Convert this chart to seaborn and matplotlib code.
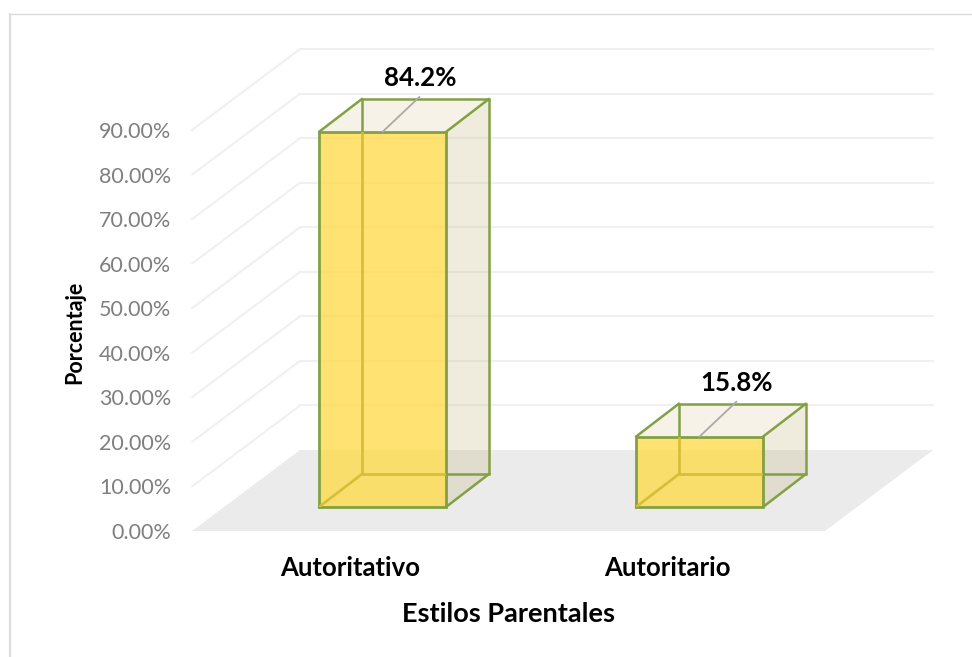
import matplotlib
matplotlib.use("Agg")
import matplotlib.pyplot as plt
from matplotlib.patches import Polygon
from matplotlib.lines import Line2D
from matplotlib.ticker import PercentFormatter
import pandas as pd
import seaborn as sns

categories = ["Autoritativo", "Autoritario"]
values = [84.2, 15.8]
data_labels = ["84.2%", "15.8%"]
tick_values = [0, 10, 20, 30, 40, 50, 60, 70, 80, 90]
x_title = "Estilos Parentales"
y_title = "Porcentaje"

sns.set_theme(style="white")
plt.rcParams["font.family"] = ["Lato", "DejaVu Sans"]

W, H = 972, 657
BASE_PY = 507
AX_BOTTOM_PY = 540
PX_PER_PCT = 4.455
PX_PER_CAT = 317.0
CAT0_PX = 382.5
EDGE = "#83A044"
GRID = "#F0F0F0"


def dx(px):
    return px / PX_PER_CAT


def dy(px):
    return px / PX_PER_PCT


fig = plt.figure(figsize=(W / 100, H / 100), dpi=100, facecolor="white")
ax = fig.add_axes([0, (H - AX_BOTTOM_PY) / H, 1, AX_BOTTOM_PY / H])
ax.patch.set_alpha(0)

df = pd.DataFrame({"estilo": categories, "pct": values})
sns.barplot(data=df, x="estilo", y="pct", width=127 / PX_PER_CAT, color="#FFDB4D",
            saturation=1, edgecolor=EDGE, linewidth=2.0, ax=ax, zorder=6)
ax.set_xlim(-CAT0_PX / PX_PER_CAT, (W - CAT0_PX) / PX_PER_CAT)
ax.set_ylim(-dy(AX_BOTTOM_PY - BASE_PY), dy(BASE_PY))

# Chart geometry, measured in pixel offsets from the bar front plane
wall_left = dx(192 - CAT0_PX)
floor_w = dx(633)
depth_x, depth_y = dx(108), dy(81)
front_to_wall = dy(24)          # 0 % of the wall sits this far below the bar base

# walls
for t in tick_values[1:]:
    y0 = t - front_to_wall
    ax.add_line(Line2D([wall_left, wall_left + depth_x], [y0, y0 + depth_y],
                       color=GRID, lw=1.5, zorder=1))
    ax.add_line(Line2D([wall_left + depth_x, wall_left + depth_x + floor_w],
                       [y0 + depth_y, y0 + depth_y], color=GRID, lw=1.5, zorder=1))

# floor
y0 = -front_to_wall
ax.add_patch(Polygon([(wall_left, y0), (wall_left + floor_w, y0),
                      (wall_left + floor_w + depth_x, y0 + depth_y),
                      (wall_left + depth_x, y0 + depth_y)],
                     closed=True, fc="#EBEBEB", ec="none", zorder=2))

# 3-D box built from each seaborn bar
bx, by = dx(43), dy(33)
for bar, lab in zip(ax.patches[:len(values)], data_labels):
    x0, x1, top = bar.get_x(), bar.get_x() + bar.get_width(), bar.get_height()
    bar.set_facecolor((1.0, 0.859, 0.302, 0.8))
    faces = [
        ([(x1, 0), (x1 + bx, by), (x1 + bx, top + by), (x1, top)], "#C6B886", 0.28),
        ([(x0, top), (x1, top), (x1 + bx, top + by), (x0 + bx, top + by)], "#C6A95B", 0.14),
    ]
    for pts, col, al in faces:
        ax.add_patch(Polygon(pts, closed=True, fc=col, ec="none", alpha=al, zorder=3))
    inner = [
        ([x0 + bx, x0 + bx], [by, top + by]),
        ([x0 + bx, x1 + bx], [by, by]),
        ([x0, x0 + bx], [0, by]),
    ]
    outer = [
        ([x1, x1 + bx], [0, by]),
        ([x1 + bx, x1 + bx], [by, top + by]),
        ([x0 + bx, x1 + bx], [top + by, top + by]),
        ([x0, x0 + bx], [top, top + by]),
        ([x1, x1 + bx], [top, top + by]),
    ]
    for ex, ey in inner + outer:
        ax.add_line(Line2D(ex, ey, color=EDGE, lw=1.8, zorder=4, solid_capstyle="round"))
    for ex, ey in inner:
        ln = Line2D(ex, ey, color="#D6BF38", lw=1.8, zorder=6.5)
        ax.add_line(ln)
        ln.set_clip_path(bar)
    xc = (x0 + x1) / 2
    ax.add_line(Line2D([xc, xc + dx(37)], [top, top + dy(35)], color="#A9A9A9", lw=1.3, zorder=7))
    ax.text(xc + dx(37.5), top + dy(54), lab, ha="center", va="center",
            fontsize=18.6, fontweight="bold", color="black", zorder=8)

# value axis: real ticks on the left wall
sec = ax.secondary_yaxis(192 / W, functions=(lambda v: v + front_to_wall,
                                             lambda v: v - front_to_wall))
sec.set_yticks(tick_values)
sec.yaxis.set_major_formatter(PercentFormatter(100, decimals=2))
sec.tick_params(axis="y", length=0, pad=15, labelsize=15.5, labelcolor="#7F7F7F")
for s in sec.spines.values():
    s.set_visible(False)

sns.despine(ax=ax, left=True, bottom=True, top=True, right=True)
ax.set_yticks([])
ax.set_ylabel("")
ax.set_xticks([i - dx(32) for i in range(len(categories))], categories)
ax.set_xlabel(x_title, fontsize=19.5, fontweight="bold", color="black")
ax.xaxis.set_label_coords(508 / W, -(614 - AX_BOTTOM_PY) / AX_BOTTOM_PY)
ax.xaxis.label.set_va("center")
ax.tick_params(axis="x", length=0, pad=11.5, labelsize=18.5)
for t in ax.get_xticklabels():
    t.set_fontweight("bold")
    t.set_color("black")

fig.text(74.5 / W, 1 - 332 / H, y_title, rotation=90, ha="center", va="center",
         fontsize=15.5, fontweight="bold", color="black")

# chart frame, as visible on the top and left of the picture
fig.add_artist(Line2D([9.5 / W, 9.5 / W], [0, 1 - 13.5 / H], color="#DCDCDC", lw=1.6))
fig.add_artist(Line2D([9 / W, 1], [1 - 13.5 / H, 1 - 13.5 / H], color="#DCDCDC", lw=1.0))

fig.savefig("out.png", dpi=100, facecolor="white")
